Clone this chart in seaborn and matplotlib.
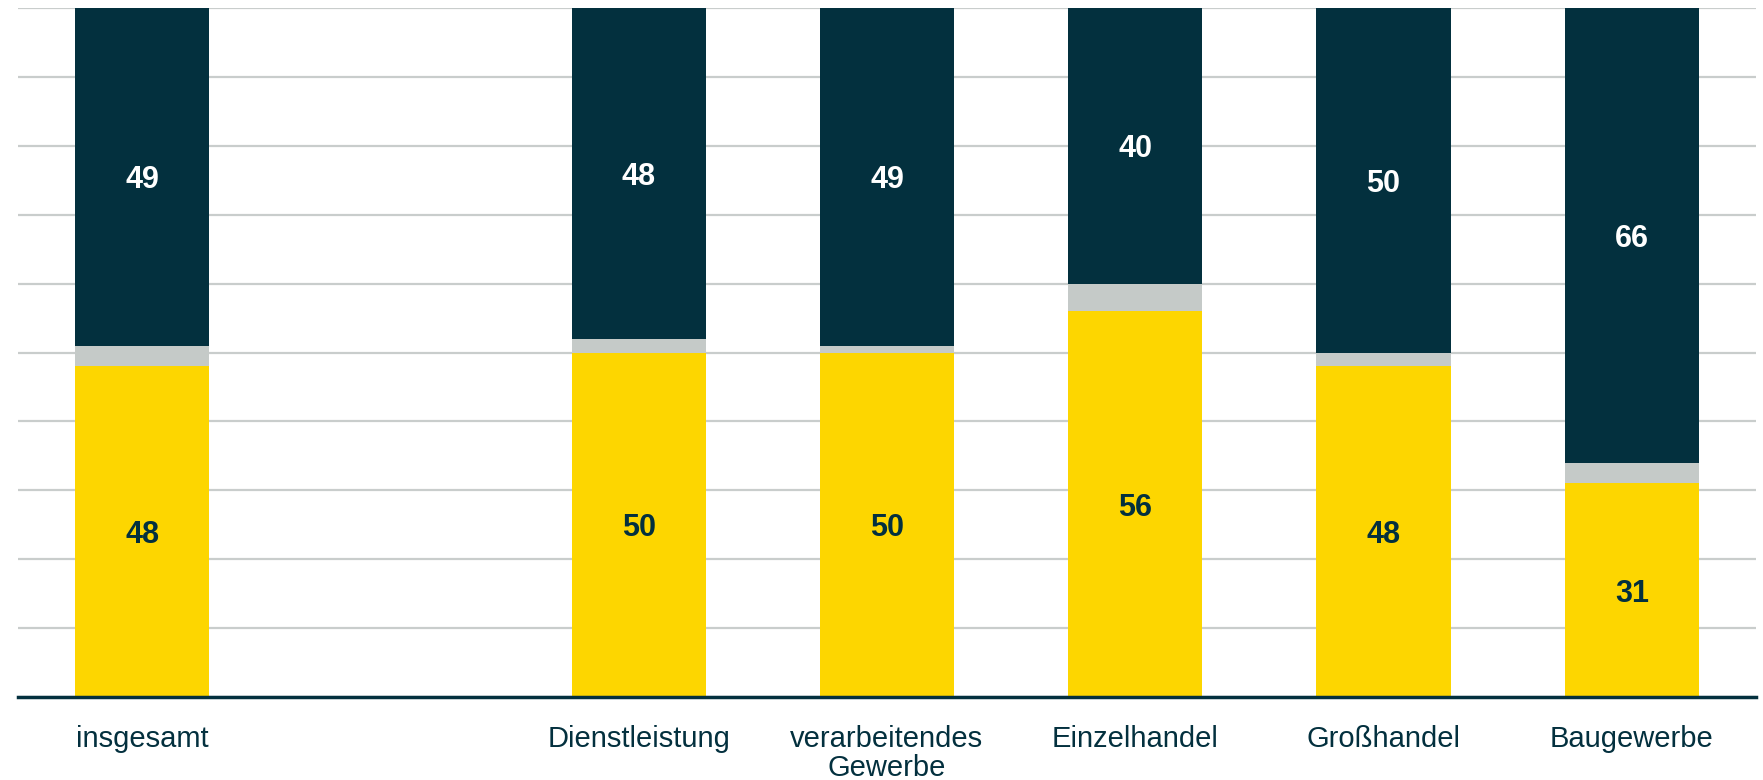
import pandas as pd
import matplotlib

matplotlib.use("Agg")
import matplotlib.pyplot as plt
import seaborn as sns

# Daten (Anteile in %)
kategorien = ["insgesamt", "Dienstleistung", "verarbeitendes\nGewerbe",
              "Einzelhandel", "Großhandel", "Baugewerbe"]
gelb = [48, 50, 50, 56, 48, 31]
grau = [3, 2, 1, 4, 2, 3]
blau = [49, 48, 49, 40, 50, 66]

# Reihenfolge mit Lücke nach "insgesamt"
reihenfolge = ["insgesamt", " ", "Dienstleistung", "verarbeitendes\nGewerbe",
               "Einzelhandel", "Großhandel", "Baugewerbe"]

NAVY = "#03303E"
GELB = "#FDD600"
GRAU = "#C5CAC8"
GRID = "#C9CDCC"

df = pd.DataFrame({"kat": kategorien, "gelb": gelb, "grau": grau, "blau": blau})
df["gelb_grau"] = df["gelb"] + df["grau"]
df["gesamt"] = df["gelb_grau"] + df["blau"]

sns.set_style("white")
plt.rcParams["font.family"] = ["Liberation Sans", "DejaVu Sans"]

fig = plt.figure(figsize=(17.63, 7.80), dpi=100)
ax = fig.add_axes([0.0102, 0.1064, 0.9858, 0.8833])

breite = 0.54
for spalte, farbe in [("gesamt", NAVY), ("gelb_grau", GRAU), ("gelb", GELB)]:
    sns.barplot(data=df, x="kat", y=spalte, order=reihenfolge, color=farbe,
                width=breite, saturation=1, linewidth=0, edgecolor="none",
                ax=ax, zorder=3)

# Werte beschriften
for _, row in df.iterrows():
    pos = reihenfolge.index(row["kat"])
    ax.text(pos, row["gelb"] / 2, f"{row['gelb']}", ha="center",
            va="center_baseline", fontsize=22, fontweight="bold", color=NAVY,
            zorder=4)
    ax.text(pos, row["gelb_grau"] + row["blau"] / 2, f"{row['blau']}",
            ha="center", va="center_baseline", fontsize=22, fontweight="bold",
            color="white", zorder=4)

ax.set_xlim(-0.5, len(reihenfolge) - 0.5)
ax.set_ylim(0, 100)
ax.set_yticks(range(0, 101, 10))
ax.set_yticklabels([])
ax.yaxis.grid(True, color=GRID, linewidth=1.6, zorder=0)
ax.set_axisbelow(True)
ax.set_xlabel("")
ax.set_ylabel("")
ax.tick_params(axis="x", length=0, pad=20, labelsize=21, labelcolor=NAVY)
ax.tick_params(axis="y", length=0)
for lbl in ax.get_xticklabels():
    lbl.set_linespacing(1.05)

for side in ["top", "left", "right"]:
    ax.spines[side].set_visible(False)
ax.spines["bottom"].set_color(NAVY)
ax.spines["bottom"].set_linewidth(2.5)
ax.spines["bottom"].set_zorder(5)

plt.savefig("out.png", dpi=100)
plt.close()
